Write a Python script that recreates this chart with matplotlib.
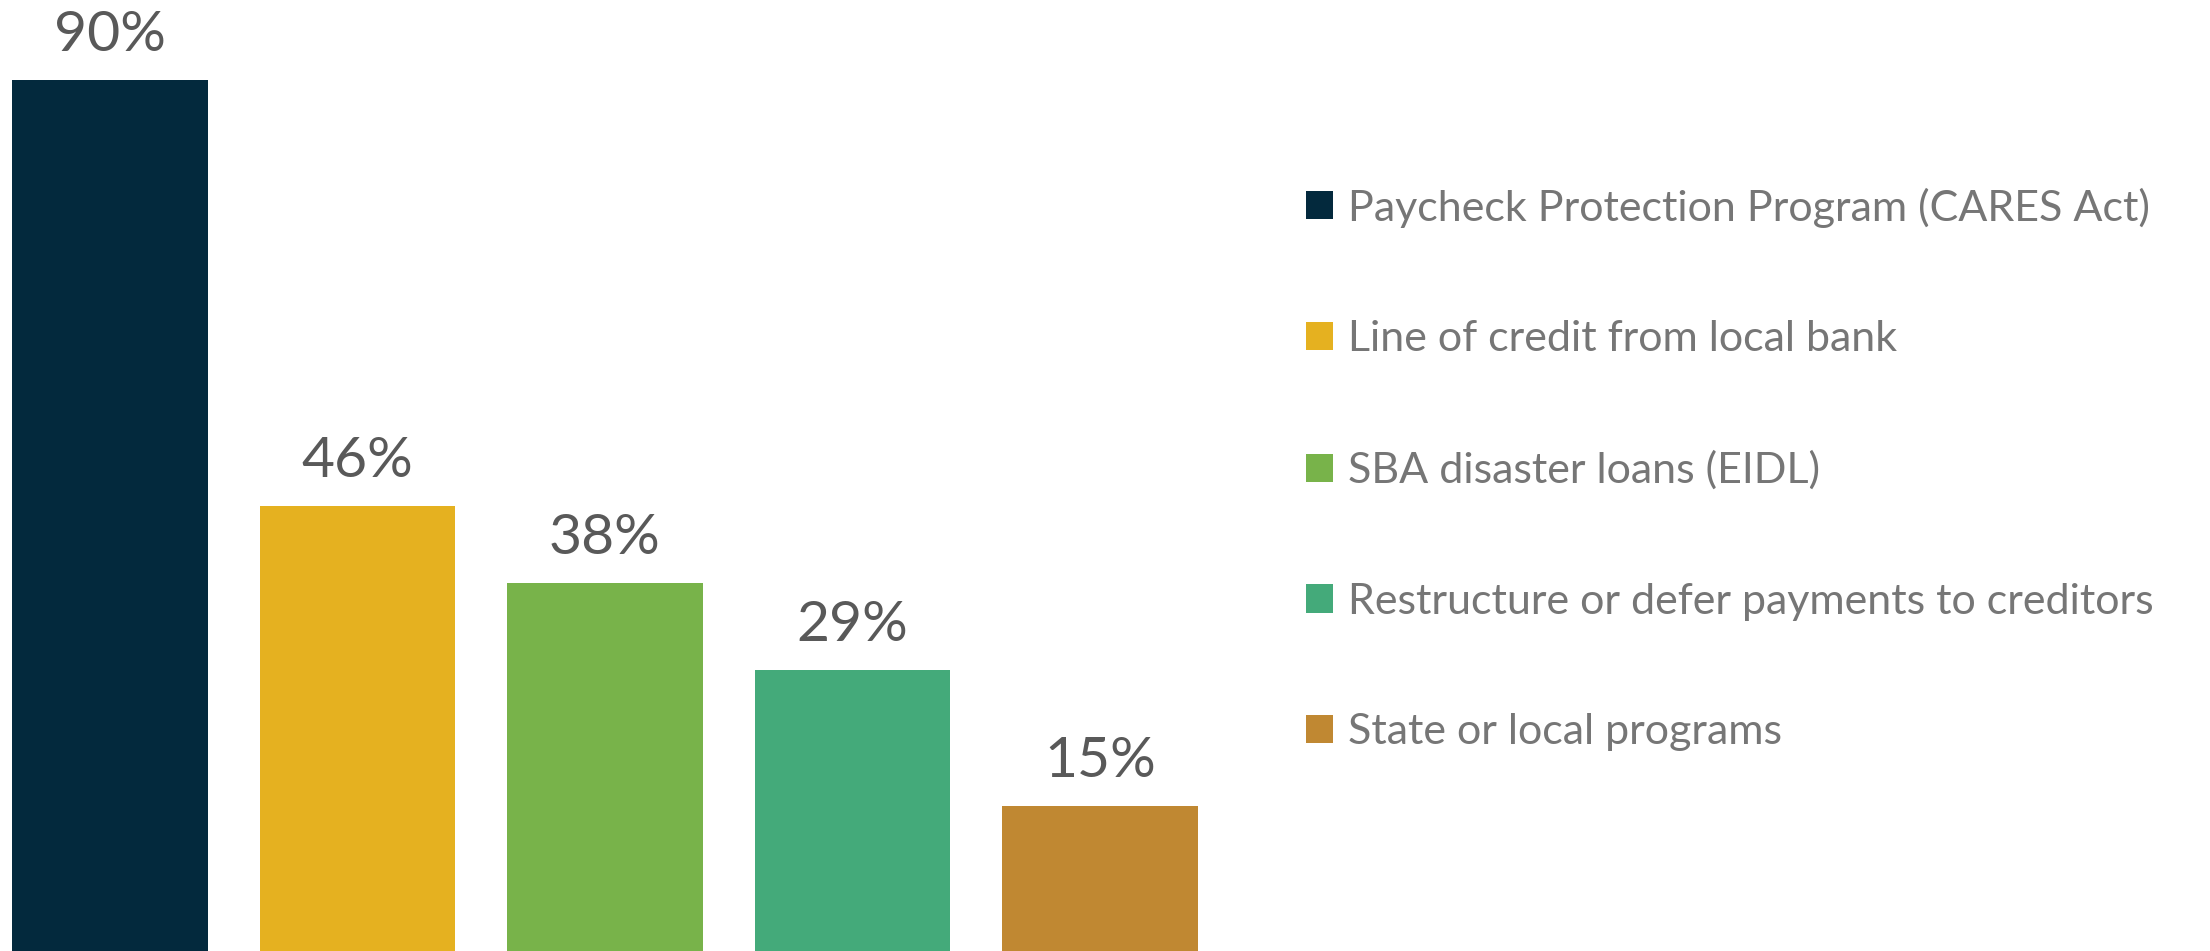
import matplotlib.pyplot as plt
from matplotlib.patches import Patch

# data
programs = ['Paycheck Protection Program (CARES Act)',
            'Line of credit from local bank',
            'SBA disaster loans (EIDL)',
            'Restructure or defer payments to creditors',
            'State or local programs']
shares = [90, 46, 38, 29, 15]
colors = ['#03293D', '#E5B120', '#78B34A', '#44AA7A', '#C08832']

plt.rcParams['font.family'] = ['Lato', 'DejaVu Sans']

fig = plt.figure(figsize=(22.1, 9.51), dpi=100)
ax = fig.add_axes([0, 0, 1, 1])

x = list(range(len(shares)))
bars = ax.bar(x, shares, width=0.79, color=colors)

# value labels above the bars
for xi, v in zip(x, shares):
    ax.annotate(f'{v}%', (xi, v), xytext=(0, 21), textcoords='offset points',
                ha='center', va='baseline', fontsize=41, color='#595959')

ax.set_xlim(-0.444, 8.485)
ax.set_ylim(0, 98.3)
ax.axis('off')

handles = [Patch(facecolor=c, edgecolor='none') for c in colors]
leg = ax.legend(handles, programs, loc='upper left',
                bbox_to_anchor=(0.591, 0.803), bbox_transform=fig.transFigure,
                frameon=False, fontsize=31, labelcolor='#767676',
                handlelength=0.63, handleheight=0.63, handletextpad=0.35,
                labelspacing=2.15, borderpad=0, borderaxespad=0)

fig.savefig('out.png', dpi=100, facecolor='white')
